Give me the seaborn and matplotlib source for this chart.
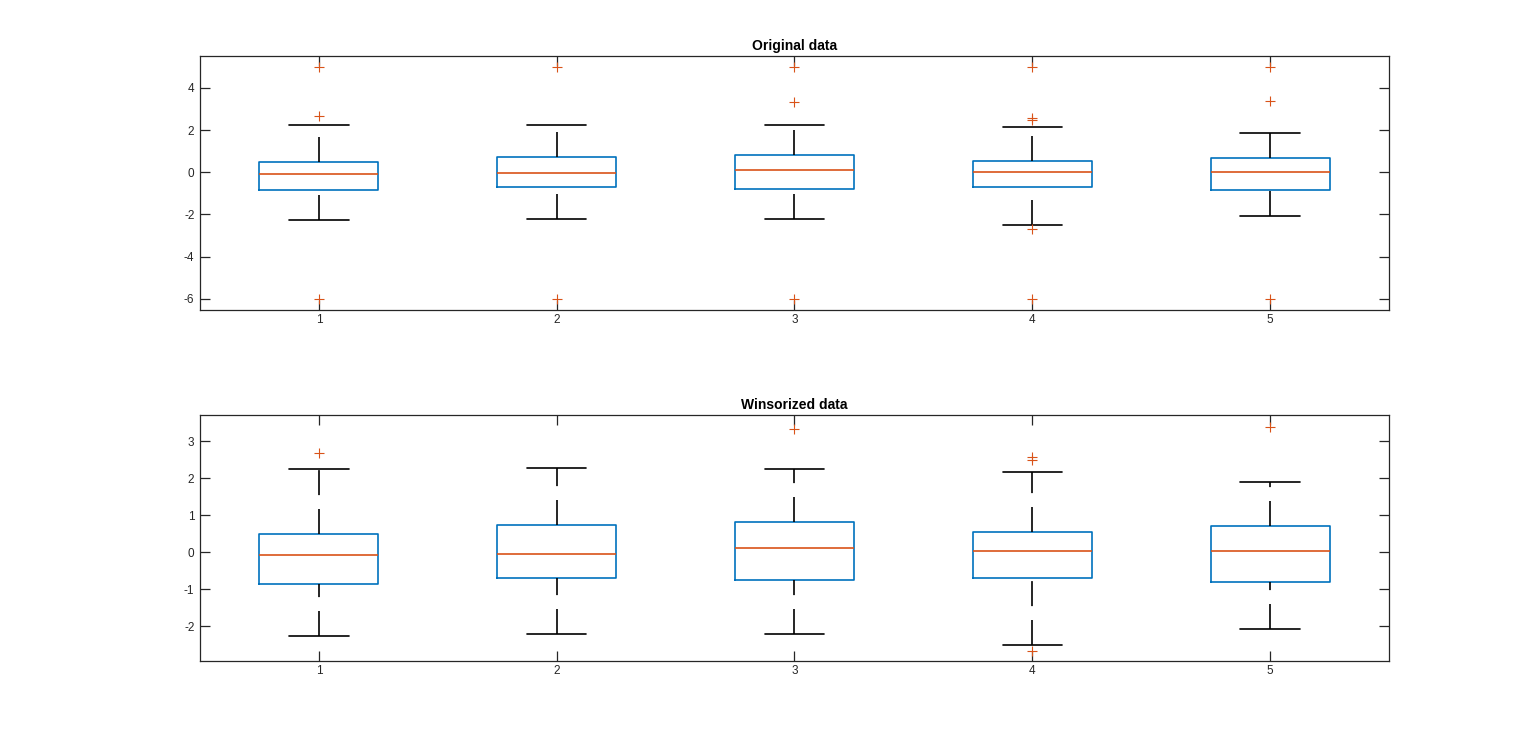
import numpy as np
import pandas as pd
import seaborn as sns
import matplotlib.pyplot as plt

# ======================
# VALORES
# ======================
grupos = ['1', '2', '3', '4', '5']

# Datos originales
orig_q1 = [-0.85, -0.70, -0.78, -0.70, -0.82]
orig_med = [-0.08, -0.05, 0.09, 0.00, 0.01]
orig_q3 = [0.47, 0.71, 0.81, 0.52, 0.69]
orig_bigote_inf = [-2.27, -2.21, -2.21, -2.51, -2.07]
orig_bigote_sup = [2.23, 2.24, 2.23, 2.15, 1.88]
orig_atipicos = [
    [-6.0, 2.65, 5.0],
    [-6.0, 5.0],
    [-6.0, 3.32, 5.0],
    [-6.0, -2.67, 2.49, 2.55, 5.0],
    [-6.0, 3.36, 5.0],
]

# Datos winsorizados
wins_q1 = [-0.85, -0.69, -0.76, -0.69, -0.80]
wins_med = [-0.07, -0.04, 0.11, 0.02, 0.04]
wins_q3 = [0.49, 0.74, 0.83, 0.54, 0.72]
wins_bigote_inf = [-2.26, -2.21, -2.22, -2.50, -2.07]
wins_bigote_sup = [2.25, 2.28, 2.26, 2.17, 1.90]
wins_atipicos = [
    [2.69],
    [],
    [3.32],
    [-2.66, 2.50, 2.57],
    [3.39],
]

AZUL = '#0072BD'
NARANJA = '#D95319'
GRIS = '#262626'


def muestra(q1, med, q3, lo, hi, atipicos, k=8):
    # bloques repetidos para que los cuartiles caigan en los valores leídos
    return sorted(list(atipicos) + [lo] + [q1] * k + [med] * k + [q3] * k + [hi])


def tabla(q1s, meds, q3s, los, his, atips):
    filas = []
    for g, q1, med, q3, lo, hi, at in zip(grupos, q1s, meds, q3s, los, his, atips):
        for v in muestra(q1, med, q3, lo, hi, at):
            filas.append({'grupo': g, 'valor': v})
    return pd.DataFrame(filas)


df_orig = tabla(orig_q1, orig_med, orig_q3, orig_bigote_inf, orig_bigote_sup, orig_atipicos)
df_wins = tabla(wins_q1, wins_med, wins_q3, wins_bigote_inf, wins_bigote_sup, wins_atipicos)

sns.set_theme(style='white')
plt.rcParams['font.family'] = ['Liberation Sans', 'DejaVu Sans']
plt.rcParams['lines.scale_dashes'] = False

fig = plt.figure(figsize=(15.36, 7.44), dpi=100)
ax1 = fig.add_axes([0.1302, 0.5833, 0.7741, 0.3414])
ax2 = fig.add_axes([0.1302, 0.1116, 0.7741, 0.3306])

paneles = [
    (ax1, df_orig, 'Original data', (-6.53, 5.51), [-6, -4, -2, 0, 2, 4]),
    (ax2, df_wins, 'Winsorized data', (-2.94, 3.71), [-2, -1, 0, 1, 2, 3]),
]

for ax, df, titulo, ylim, yticks in paneles:
    sns.boxplot(
        data=df, x='grupo', y='valor', order=grupos, ax=ax,
        width=0.5, fill=False, whis=1.5,
        boxprops=dict(color=AZUL, linewidth=1.2),
        medianprops=dict(color=NARANJA, linewidth=1.2),
        whiskerprops=dict(color='black', linewidth=1.2, linestyle=(0, (18, 10))),
        capprops=dict(color='black', linewidth=1.2),
        flierprops=dict(marker='+', markeredgecolor=NARANJA, markerfacecolor=NARANJA,
                        markersize=6.5, markeredgewidth=0.8, linestyle='none'),
    )
    # bigote inferior: en el original el patrón de trazos empieza abajo
    for ln in ax.lines:
        x, y = ln.get_data()
        x = np.asarray(x, dtype=float)
        y = np.asarray(y, dtype=float)
        if len(x) == 2 and x[0] == x[1] and y[1] < y[0]:
            ln.set_data(x[::-1], y[::-1])

    ax.set_xlim(-0.5, 4.5)
    ax.set_ylim(*ylim)
    ax.set_yticks(yticks)
    ax.set_yticklabels([str(t) for t in yticks])
    ax.set_xlabel('')
    ax.set_ylabel('')
    ax.set_title(titulo, fontsize=10, fontweight='bold', color='black', pad=4)
    ax.tick_params(axis='both', which='both', direction='in', length=7, width=0.9,
                   color=GRIS, labelcolor=GRIS, labelsize=8.5,
                   top=True, right=True, bottom=True, left=True)
    ax.tick_params(axis='x', pad=3)
    ax.tick_params(axis='y', pad=4)
    for sp in ax.spines.values():
        sp.set_visible(True)
        sp.set_color(GRIS)
        sp.set_linewidth(0.9)

fig.savefig('out.png', dpi=100, facecolor='white')
